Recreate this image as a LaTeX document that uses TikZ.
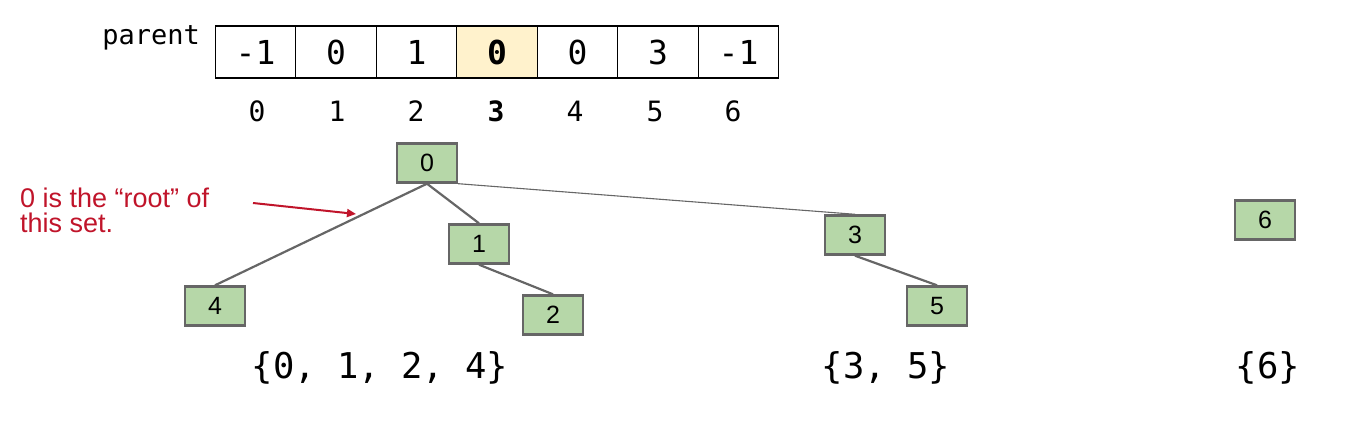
\documentclass[tikz,border=0pt]{standalone}
\usepackage{fontspec}
\setmainfont{Liberation Sans}
\setmonofont{DejaVu Sans Mono}
\usetikzlibrary{arrows.meta}
\definecolor{nodegreen}{HTML}{B6D7A8}
\definecolor{nodeborder}{HTML}{666666}
\definecolor{hl}{HTML}{FFF2CC}
\definecolor{darkred}{HTML}{C0142A}
\tikzset{
  cell/.style={draw=black, line width=1.1pt, minimum width=80.5pt, minimum height=52pt, inner sep=0pt, font=\ttfamily\fontsize{33}{36}\selectfont},
  idx/.style={inner sep=0pt, font=\ttfamily\fontsize{28}{32}\selectfont},
  tnode/.style={draw=nodeborder, fill=nodegreen, line width=2.4pt, minimum width=60pt, minimum height=39pt, inner sep=0pt, font=\fontsize{25}{28}\selectfont},
  edge/.style={draw=nodeborder, line width=2.2pt},
  thinedge/.style={draw=nodeborder, line width=1.1pt},
  setlbl/.style={inner sep=0pt, font=\ttfamily\fontsize{35.5}{40}\selectfont},
  note/.style={inner sep=0pt, align=left, text=darkred, font=\fontsize{27}{25}\selectfont},
}
\begin{document}
\begin{tikzpicture}[x=1pt,y=-1pt]
\useasboundingbox (0,0) rectangle (1372,422);
% parent array
\node[inner sep=0pt, anchor=east, font=\ttfamily\fontsize{27}{30}\selectfont] (plabel) at (200,38) {parent};
\node[cell] (c0) at (255.5,52) {-1};
\node[cell] (c1) at (336,52) {0};
\node[cell] (c2) at (416.5,52) {1};
\node[cell, fill=hl, font=\ttfamily\bfseries\fontsize{33}{36}\selectfont] (c3) at (497,52) {0};
\node[cell] (c4) at (577.5,52) {0};
\node[cell] (c5) at (658,52) {3};
\node[cell] (c6) at (738.5,52) {-1};
\node[idx] (i0) at (257,111) {0};
\node[idx] (i1) at (337,111) {1};
\node[idx] (i2) at (416,111) {2};
\node[idx, font=\ttfamily\bfseries\fontsize{28}{32}\selectfont] (i3) at (496,111) {3};
\node[idx] (i4) at (575,111) {4};
\node[idx] (i5) at (655,111) {5};
\node[idx] (i6) at (733,111) {6};
% tree nodes
\node[tnode] (n0) at (427,163) {0};
\node[tnode] (n1) at (479,244) {1};
\node[tnode] (n2) at (553,315) {2};
\node[tnode] (n4) at (215,306) {4};
\node[tnode] (n3) at (855,235) {3};
\node[tnode] (n5) at (937,306) {5};
\node[tnode] (n6) at (1265,220) {6};
% edges
\draw[edge] (n0.south) -- (n4.north);
\draw[edge] (n0.south) -- (n1.north);
\draw[edge] (n1.south) -- (n2.north);
\draw[thinedge] (n0.south east) -- (n3.north);
\draw[edge] (n3.south) -- (n5.north);
% annotation
\node[note, anchor=north west] (note) at (20,188) {0 is the “root” of\\this set.};
\coordinate (arrs) at (253,203);
\coordinate (arre) at (356,214);
\draw[darkred, line width=2pt, -{Triangle[length=9pt,width=8pt]}] (arrs) -- (arre);
% set labels
\node[setlbl] (s1) at (380,368) {\{0, 1, 2, 4\}};
\node[setlbl] (s2) at (886,368) {\{3, 5\}};
\node[setlbl] (s3) at (1268,368) {\{6\}};
\end{tikzpicture}
\end{document}
